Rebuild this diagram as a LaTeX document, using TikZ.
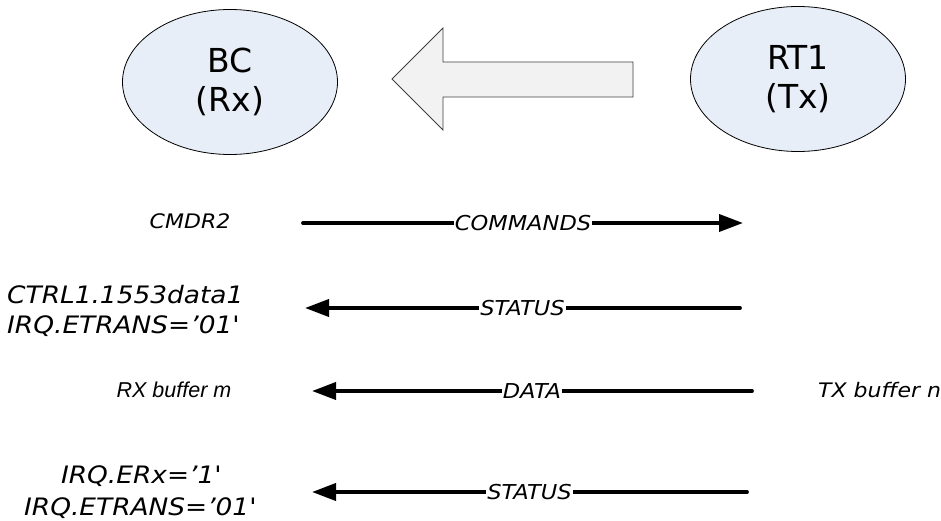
\documentclass[tikz,border=0pt]{standalone}
\usepackage{fontspec}
\setmainfont{DejaVu Sans}
\newfontfamily\vlab{DejaVu Sans}[FakeStretch=1.1]
\newfontfamily\alab{Liberation Sans}
\usetikzlibrary{shapes.geometric,arrows.meta}
\definecolor{ellfill}{RGB}{232,238,247}
\definecolor{bigfill}{RGB}{242,242,242}
\definecolor{bigline}{RGB}{64,64,64}
\tikzset{
  party/.style={ellipse,draw=black,line width=0.8pt,fill=ellfill,inner sep=0pt,
    minimum width=215pt,minimum height=145pt,align=center,
    font=\fontsize{33}{39}\selectfont},
  sig/.style={line width=3.8pt,line cap=round,-{Triangle[length=24pt,width=17pt]}},
  lbl/.style={fill=white,inner sep=1pt,font=\vlab\itshape\fontsize{20.5}{24}\selectfont},
  side/.style={inner sep=0pt,font=\vlab\itshape\fontsize{24}{30}\selectfont},
  sidesmall/.style={inner sep=0pt,font=\vlab\itshape\fontsize{20}{24}\selectfont},
  arial/.style={inner sep=0pt,font=\alab\itshape\fontsize{21.5}{25}\selectfont},
}
\begin{document}
\begin{tikzpicture}[x=1pt,y=-1pt]
\useasboundingbox (0,0) rectangle (941,521);
\clip (0,0) rectangle (941,521);
% parties
\node[party] (bc) at (230,82) {BC\\(Rx)};
\node[party] (rt) at (798,79) {RT1\\(Tx)};
% big hollow arrow
\draw[draw=bigline,fill=bigfill,line width=0.8pt]
  (633,62) -- (443,62) -- (443,28) -- (392,79) -- (443,130) -- (443,97) -- (633,97) -- cycle;
% row 1
\node[sidesmall,anchor=base] (cmdr) at (190,229) {CMDR2};
\coordinate (c1a) at (303,223);
\coordinate (c1b) at (743,223);
\draw[sig] (c1a) -- node[lbl] {COMMANDS} (c1b);
% row 2
\node[side,anchor=base west] (ctrl) at (7,303) {CTRL1.1553data1};
\node[side,anchor=base west] (irq1) at (7,333) {IRQ.ETRANS=’01\textquotesingle};
\coordinate (c2a) at (740,308);
\coordinate (c2b) at (305,308);
\draw[sig] (c2a) -- node[lbl] {STATUS} (c2b);
% row 3
\node[arial,anchor=base] (rxb) at (174,397) {RX buffer m};
\node[sidesmall,anchor=base west] (txb) at (818,397) {TX buffer n};
\coordinate (c3a) at (752,391);
\coordinate (c3b) at (312,391);
\draw[sig] (c3a) -- node[lbl] {DATA} (c3b);
% row 4
\node[side,anchor=base] (erx) at (141,483) {IRQ.ERx=’1\textquotesingle};
\node[side,anchor=base] (irq2) at (140,515) {IRQ.ETRANS=’01\textquotesingle};
\coordinate (c4a) at (747,492);
\coordinate (c4b) at (312,492);
\draw[sig] (c4a) -- node[lbl] {STATUS} (c4b);
\end{tikzpicture}
\end{document}
